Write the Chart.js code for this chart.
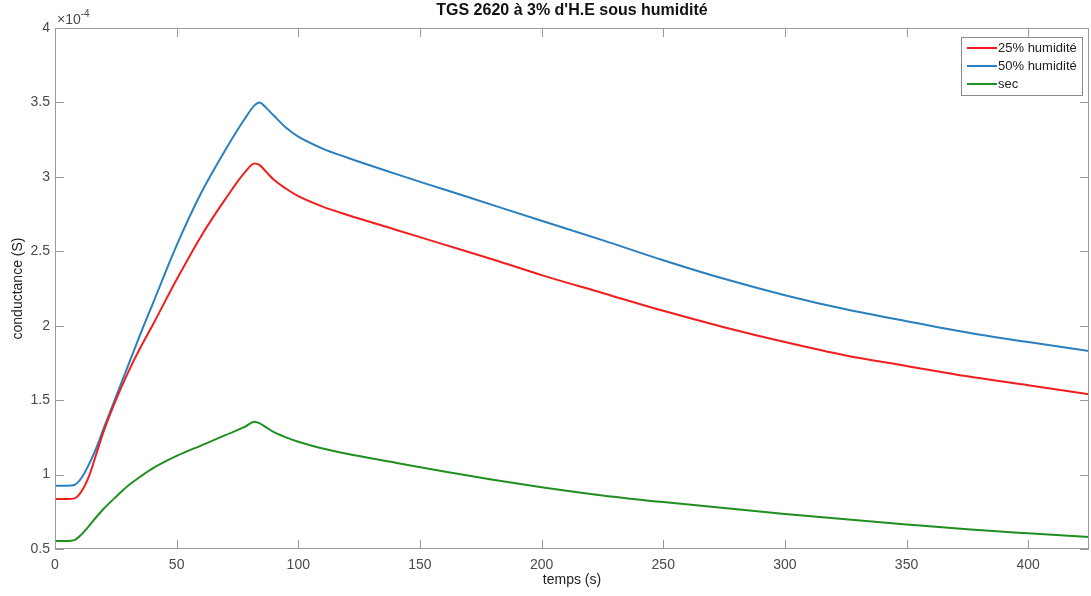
<!DOCTYPE html>
<html>
<head>
<meta charset="utf-8">
<script src="https://cdn.jsdelivr.net/npm/chart.js@4.4.0/dist/chart.umd.min.js"></script>
<style>
  html, body { margin: 0; padding: 0; background: #fff; }
</style>
</head>
<body>
<canvas id="graphe" width="1091" height="596"></canvas>
<script>
// temps (s) et conductance (x 1e-4 S)
const temps = [0, 5, 8, 11, 14, 17, 20, 25, 30, 35, 40, 50, 60, 70, 78, 82, 84, 87, 90, 95,
  100, 110, 120, 140, 160, 180, 200, 225, 250, 275, 300, 325, 350, 375, 400, 425];
const humid25 = [0.836, 0.836, 0.84, 0.89, 0.99, 1.14, 1.29, 1.50, 1.685, 1.85, 2.00, 2.31, 2.60, 2.85, 3.03, 3.09, 3.08, 3.03, 2.98, 2.92,
  2.87, 2.80, 2.745, 2.645, 2.545, 2.445, 2.34, 2.22, 2.10, 1.99, 1.89, 1.80, 1.73, 1.66, 1.60, 1.54];
const humid50 = [0.925, 0.925, 0.93, 0.98, 1.07, 1.18, 1.31, 1.52, 1.73, 1.94, 2.14, 2.54, 2.89, 3.18, 3.39, 3.48, 3.50, 3.46, 3.41, 3.33,
  3.27, 3.19, 3.13, 3.02, 2.915, 2.81, 2.705, 2.575, 2.44, 2.315, 2.205, 2.11, 2.03, 1.955, 1.89, 1.83];
const sec = [0.554, 0.554, 0.56, 0.60, 0.655, 0.715, 0.77, 0.85, 0.925, 0.985, 1.04, 1.125, 1.195, 1.265, 1.32, 1.355, 1.345, 1.315, 1.285, 1.25,
  1.22, 1.175, 1.14, 1.08, 1.02, 0.965, 0.915, 0.86, 0.815, 0.775, 0.735, 0.70, 0.665, 0.632, 0.605, 0.58];

const labels = ['25% humidité', '50% humidité', 'sec'];
const couleurs = ['#f01e1e', '#2a7fbf', '#1f8f1f'];
const titre = "TGS 2620 à 3% d'H.E sous humidité";

const gris = '#9a9a9a';
const texte = '#4a4a4a';
const police = '"Liberation Sans", Arial, sans-serif';

const toPoints = (vals) => temps.map((t, i) => ({ x: t, y: vals[i] }));

// cadre, ticks vers l'intérieur, titre, exposant et légende façon MATLAB
const cadreMatlab = {
  id: 'cadreMatlab',
  afterDatasetsDraw(chart) {
    const { ctx, chartArea: a, scales: { x, y } } = chart;
    ctx.save();
    ctx.strokeStyle = gris;
    ctx.lineWidth = 1;
    ctx.strokeRect(a.left + 0.5, a.top + 0.5, a.right - a.left - 1, a.bottom - a.top - 1);

    ctx.beginPath();
    x.ticks.forEach(t => {
      const px = Math.round(x.getPixelForValue(t.value)) + 0.5;
      ctx.moveTo(px, a.bottom); ctx.lineTo(px, a.bottom - 9);
      ctx.moveTo(px, a.top); ctx.lineTo(px, a.top + 9);
    });
    y.ticks.forEach(t => {
      const py = Math.round(y.getPixelForValue(t.value)) + 0.5;
      ctx.moveTo(a.left, py); ctx.lineTo(a.left + 9, py);
      ctx.moveTo(a.right, py); ctx.lineTo(a.right - 9, py);
    });
    ctx.stroke();

    // titre
    ctx.fillStyle = '#111';
    ctx.font = 'bold 16px ' + police;
    ctx.textAlign = 'center';
    ctx.textBaseline = 'middle';
    ctx.fillText(titre, (a.left + a.right) / 2, 11);

    // x10^-4
    ctx.fillStyle = texte;
    ctx.textAlign = 'left';
    ctx.textBaseline = 'alphabetic';
    ctx.font = '14px ' + police;
    ctx.fillText('×10', a.left + 2, 24);
    const w = ctx.measureText('×10').width;
    ctx.font = '10px ' + police;
    ctx.fillText('-4', a.left + 2 + w, 17);

    // légende
    const bx = 961, by = 37, bw = 121, bh = 58;
    ctx.fillStyle = '#fff';
    ctx.fillRect(bx, by, bw, bh);
    ctx.strokeStyle = '#8a8a8a';
    ctx.strokeRect(bx + 0.5, by + 0.5, bw, bh);
    ctx.font = '13px ' + police;
    ctx.textBaseline = 'middle';
    chart.data.datasets.forEach((ds, i) => {
      const ly = by + 11 + i * 18;
      ctx.strokeStyle = ds.borderColor;
      ctx.lineWidth = 2;
      ctx.beginPath();
      ctx.moveTo(bx + 6, ly); ctx.lineTo(bx + 36, ly);
      ctx.stroke();
      ctx.fillStyle = '#222';
      ctx.fillText(ds.label, bx + 37, ly);
    });
    ctx.restore();
  }
};

new Chart(document.getElementById('graphe'), {
  type: 'line',
  data: {
    datasets: [humid25, humid50, sec].map((vals, i) => ({
      label: labels[i],
      data: toPoints(vals),
      borderColor: couleurs[i],
      borderWidth: 2,
      pointRadius: 0,
      fill: false,
      cubicInterpolationMode: 'monotone'
    }))
  },
  options: {
    responsive: false,
    animation: false,
    layout: { padding: { left: 0, top: 28, right: 2, bottom: 0 } },
    plugins: {
      legend: { display: false },
      title: { display: false },
      tooltip: { enabled: false }
    },
    scales: {
      x: {
        type: 'linear',
        min: 0,
        max: 425,
        grid: { display: false, drawTicks: false },
        border: { display: false },
        afterBuildTicks: (s) => { s.ticks = s.ticks.filter(t => t.value % 50 === 0); },
        afterFit: (s) => { s.height = 47; },
        ticks: { stepSize: 50, padding: 8, color: texte, font: { family: police, size: 14 }, maxRotation: 0 },
        title: { display: true, text: 'temps (s)', color: '#222', font: { family: police, size: 14 }, padding: { top: 0, bottom: 7 } }
      },
      y: {
        min: 0.5,
        max: 4,
        grid: { display: false, drawTicks: false },
        border: { display: false },
        afterFit: (s) => { s.width = 55; },
        ticks: { stepSize: 0.5, padding: 5, color: texte, font: { family: police, size: 14 },
          callback: (v) => String(+v.toFixed(2)) },
        title: { display: true, text: 'conductance (S)', color: '#222', font: { family: police, size: 14 }, padding: { top: 10, bottom: 0 } }
      }
    }
  },
  plugins: [cadreMatlab]
});
</script>
</body>
</html>
